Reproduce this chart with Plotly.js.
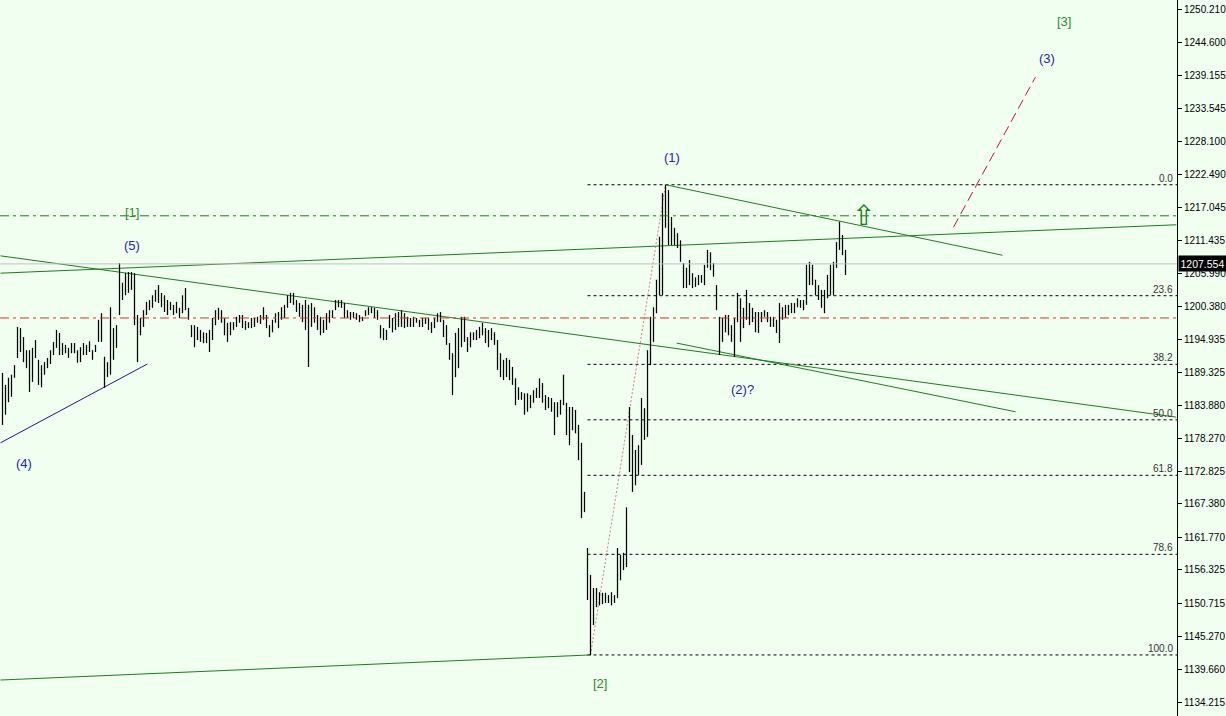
<!DOCTYPE html>
<html>
<head>
<meta charset="utf-8">
<script src="https://cdn.plot.ly/plotly-3.0.1.min.js"></script>
<style>html,body{margin:0;padding:0;background:#f0fff0;}#chart{width:1226px;height:716px;}</style>
</head>
<body>
<div id="chart"></div>
<script>
// ---- bar data (high / low per bar) ----
const barHigh = [
1189.3,1187.3,1188.5,1189.0,1190.6,1197.0,1196.8,1195.3,1193.1,1193.1,
1193.5,1194.8,1191.5,1190.6,1191.1,1191.8,1193.1,1194.5,1196.5,1196.0,
1194.3,1194.0,1193.5,1194.3,1194.3,1193.1,1193.6,1194.3,1194.0,1194.6,
1193.1,1194.0,1198.2,1199.3,1192.0,1191.1,1200.3,1196.8,1197.3,1207.7,
1204.4,1206.0,1206.2,1206.2,1206.0,1199.0,1198.5,1199.8,1201.2,1201.5,
1202.3,1203.2,1204.0,1202.7,1202.3,1201.5,1201.2,1200.7,1201.2,1200.2,
1202.3,1203.5,1200.2,1197.3,1197.3,1197.0,1196.5,1196.1,1196.0,1196.5,
1198.5,1199.8,1200.2,1199.8,1198.5,1197.7,1197.8,1197.8,1198.7,1199.0,
1199.0,1198.0,1197.8,1198.5,1198.5,1198.7,1199.0,1200.3,1199.0,1197.3,
1198.2,1199.3,1199.5,1200.3,1200.7,1202.3,1202.7,1202.7,1201.5,1201.0,
1200.7,1201.5,1200.7,1201.0,1200.3,1199.0,1198.7,1198.2,1199.3,1199.8,
1199.8,1201.5,1201.5,1201.5,1201.0,1199.8,1199.5,1199.5,1199.3,1199.0,
1198.7,1199.8,1200.3,1200.3,1200.2,1199.8,1197.3,1196.8,1196.5,1199.0,
1198.5,1199.3,1199.5,1199.8,1199.3,1198.7,1198.5,1198.7,1198.5,1198.2,
1198.5,1198.5,1198.5,1197.8,1198.5,1199.3,1199.5,1198.2,1197.3,1194.3,
1192.6,1196.0,1196.8,1198.7,1198.7,1195.3,1196.1,1196.1,1196.5,1197.0,
1197.7,1196.8,1196.5,1196.8,1196.1,1194.8,1192.6,1191.5,1191.8,1191.5,
1190.3,1188.4,1186.9,1186.1,1185.9,1185.9,1185.6,1186.4,1186.8,1188.4,
1187.6,1185.6,1185.3,1185.1,1184.4,1184.4,1184.8,1189.0,1184.3,1183.6,
1183.6,1183.1,1180.6,1177.6,1169.4,
1160.0,1155.5,1153.3,1153.3,1152.6,1152.5,1152.5,1152.1,1152.6,1152.1,
1160.0,1158.8,1159.2,1166.8,1183.6,1178.9,1176.4,1177.2,1185.1,1183.4,
1193.1,1198.7,1200.3,1204.9,1212.1,1219.4,1220.8,1219.9,1215.4,1213.6,
1212.7,1211.5,1207.7,1206.9,1208.2,1206.0,1205.3,1205.7,1205.7,1207.4,
1209.9,1209.5,1207.7,1204.0,1198.7,1198.5,1199.0,1199.0,1197.3,1198.5,
1202.7,1201.8,1200.2,1203.2,1201.0,1200.2,1199.5,1199.5,1199.5,1199.8,
1199.5,1198.7,1198.7,1198.2,1201.0,1200.3,1200.7,1200.7,1201.0,1201.0,
1201.8,1201.5,1201.5,1207.4,1207.9,1207.4,1204.9,1204.0,1203.2,1203.2,
1205.7,1207.4,1207.9,1211.2,1214.6,1212.4,1209.9
];
const barLow = [
1180.6,1182.3,1184.4,1185.3,1188.5,1191.8,1192.8,1191.1,1190.1,1186.1,
1187.8,1191.8,1187.3,1186.9,1189.0,1190.1,1190.8,1192.3,1193.5,1192.3,
1192.3,1192.6,1191.8,1192.6,1192.6,1191.0,1191.1,1192.3,1192.3,1192.8,
1191.5,1192.8,1194.5,1194.5,1186.8,1188.6,1189.0,1191.5,1193.5,1199.0,
1201.5,1202.3,1202.7,1203.2,1197.3,1191.1,1195.6,1197.0,1199.0,1199.8,
1200.2,1201.2,1201.0,1200.3,1199.5,1199.0,1199.8,1199.0,1199.3,1198.5,
1199.3,1199.8,1198.2,1195.3,1193.6,1194.8,1194.5,1194.3,1194.3,1192.8,
1194.8,1197.3,1198.2,1197.7,1195.6,1194.5,1195.6,1196.5,1197.0,1197.7,
1196.8,1196.5,1196.8,1196.8,1197.0,1197.7,1197.5,1198.2,1196.8,1195.3,
1196.1,1197.7,1196.8,1198.2,1198.5,1200.2,1201.0,1200.7,1199.5,1198.7,
1197.8,1196.5,1190.3,1197.0,1197.7,1196.5,1195.6,1196.0,1196.5,1197.7,
1198.5,1199.8,1200.3,1200.2,1198.5,1198.5,1198.2,1198.5,1198.2,1197.8,
1198.0,1198.8,1199.0,1199.3,1198.5,1198.2,1195.1,1194.8,1194.8,1196.8,
1196.1,1196.5,1197.0,1197.0,1196.8,1197.0,1197.0,1197.0,1197.7,1197.0,
1197.0,1197.5,1196.5,1196.0,1196.8,1197.8,1197.8,1195.3,1194.0,1191.5,
1185.6,1188.6,1190.1,1193.6,1194.5,1192.8,1193.6,1194.8,1194.8,1195.1,
1195.6,1194.3,1193.6,1194.8,1194.0,1189.8,1188.6,1188.1,1188.6,1188.1,
1187.3,1183.9,1184.8,1184.8,1182.3,1182.8,1183.4,1184.3,1185.1,1185.1,
1184.3,1183.1,1183.4,1182.8,1178.9,1181.9,1182.3,1183.9,1178.9,1177.2,
1179.7,1179.2,1174.7,1165.0,1166.0,
1151.3,1142.1,1147.1,1150.1,1150.4,1150.6,1150.8,1150.8,1150.4,1150.8,
1151.6,1154.6,1156.3,1156.8,1172.7,1169.4,1170.5,1172.2,1173.9,1178.1,
1178.6,1190.6,1194.5,1199.3,1202.3,1202.3,1213.6,1210.7,1210.7,1210.7,
1210.2,1207.9,1203.5,1203.5,1204.0,1203.5,1203.7,1204.0,1204.4,1204.0,
1206.9,1206.5,1205.4,1199.8,1192.3,1194.5,1196.1,1195.6,1194.5,1192.0,
1197.8,1194.5,1196.8,1198.2,1197.3,1197.8,1196.1,1196.0,1197.8,1198.7,
1197.8,1197.0,1197.0,1196.0,1194.3,1198.2,1198.5,1199.0,1199.3,1199.3,
1200.3,1200.2,1199.8,1200.7,1204.0,1204.0,1202.3,1201.5,1200.2,1199.3,
1201.8,1202.3,1202.3,1206.9,1209.9,1209.0,1205.7
];
const lastPrice = 1207.554;

// ---- axis ticks ----
const tickValues = [1250.210,1244.600,1239.155,1233.545,1228.100,1222.490,1217.045,1211.435,1205.990,1200.380,1194.935,1189.325,1183.880,1178.270,1172.825,1167.380,1161.770,1156.325,1150.715,1145.270,1139.660,1134.215];
const tickLabels = tickValues.map(v => v.toFixed(3));

// ---- fibonacci ratios ----
const fibRatios = [0.0, 23.6, 38.2, 50.0, 61.8, 78.6, 100.0];
const fibLabels = ["0.0","23.6","38.2","50.0","61.8","78.6","100.0"];

// ---- horizontal levels ----
const greenLevel = 1215.6;
const redLevel = 1198.5;

// ---- hand-drawn trend lines (bar index, price) ----
const trendDescX = [-0.67, 391.3], trendDescY = [1208.9, 1181.9];
const trendAscX = [-0.67, 391.3], trendAscY = [1206.0, 1214.1];
const trendUpperEndX = 333.3, trendUpperEndY = 1209.0;
const trendLowerX = [224.7, 337.7], trendLowerY = [1194.3, 1182.8];
const trendBottomStartX = -0.67, trendBottomStartY = 1137.9;
const blueLineX = [-0.67, 48.3], blueLineY = [1177.6, 1190.8];
const projX = [317.0, 344.3], projY = [1213.7, 1238.8];

// ---- wave labels ----
const waveText = ["(1)","(5)","(4)","(2)?","(3)"];
const waveX = [223.3, 43.0, 7.0, 246.7, 348.3];
const waveY = [1225.3, 1210.7, 1174.1, 1186.6, 1242.0];
const bigText = ["[1]","[2]","[3]"];
const bigX = [43.0, 199.0, 353.7];
const bigY = [1216.1, 1137.4, 1248.2];
const arrowX = 287.0, arrowY = 1215.6;

// ---- build ----
const n = barHigh.length;
const bx = [], by = [];
for (let i = 0; i < n; i++) { bx.push(i, i, null); by.push(barLow[i], barHigh[i], null); }
let hiIdx = 0, loIdx = 0;
for (let i = 0; i < n; i++) { if (barHigh[i] > barHigh[hiIdx]) hiIdx = i; if (barLow[i] < barLow[loIdx]) loIdx = i; }
const fibHigh = barHigh[hiIdx], fibLow = barLow[loIdx];
const fibLevels = fibRatios.map(r => fibHigh - (fibHigh - fibLow) * r / 100);

const xMin = -2.5/3, xMax = (1177 - 2.5)/3;
const green = '#1e7b1e';
const traces = [];
function line(x, y, color, dash, width) {
  traces.push({type:'scatter', mode:'lines', x:x, y:y, hoverinfo:'skip', showlegend:false,
    line:{color:color, width:width||1, dash:dash||'solid'}});
}
// fib lines
fibLevels.forEach(v => line([loIdx - 1, xMax], [v, v], '#000000', '3px,3px', 1));
// trend lines
line(trendDescX, trendDescY, green);
line(trendAscX, trendAscY, green);
line([hiIdx, trendUpperEndX], [fibHigh, trendUpperEndY], green);
line(trendLowerX, trendLowerY, green);
line([trendBottomStartX, loIdx], [trendBottomStartY, fibLow], green);
line(blueLineX, blueLineY, '#1a1a8c');
line([loIdx, hiIdx], [fibLow, fibHigh], '#d07f86', '2px,2px');
line(projX, projY, '#d0103a', '10px,5px');
// bars
traces.push({type:'scatter', mode:'lines', x:bx, y:by, connectgaps:false, hoverinfo:'skip', showlegend:false,
  line:{color:'#000000', width:1.25}});

const shapes = [
  {type:'line', xref:'paper', x0:0, x1:1, yref:'y', y0:lastPrice, y1:lastPrice, line:{color:'#c0c0c0', width:1}},
  {type:'line', xref:'paper', x0:0, x1:1, yref:'y', y0:greenLevel, y1:greenLevel, line:{color:green, width:1, dash:'9px,4px,3px,4px'}},
  {type:'line', xref:'paper', x0:0, x1:1, yref:'y', y0:redLevel, y1:redLevel, line:{color:'#e0301e', width:1, dash:'9px,4px,3px,4px'}}
];

const annotations = [];
fibLevels.forEach((v, k) => annotations.push({xref:'paper', x:0.998, xanchor:'right', y:v, yanchor:'bottom', yshift:-1,
  text:fibLabels[k], showarrow:false, font:{family:'Liberation Sans, Arial', size:10, color:'#333333'}}));
waveText.forEach((t, k) => annotations.push({x:waveX[k], y:waveY[k], text:t, showarrow:false,
  font:{family:'Liberation Sans, Arial', size:13, color:'#2424b0'}}));
bigText.forEach((t, k) => annotations.push({x:bigX[k], y:bigY[k], text:t, showarrow:false,
  font:{family:'Liberation Sans, Arial', size:13, color:'#2e8b2e'}}));
annotations.push({x:arrowX, y:arrowY, yanchor:'middle', text:'⇧', showarrow:false, font:{family:'DejaVu Sans', size:28, color:'#168016'}});
annotations.push({xref:'paper', x:1, xanchor:'left', xshift:1, y:lastPrice, yanchor:'middle', text:lastPrice.toFixed(3),
  showarrow:false, bgcolor:'#000000', borderpad:1.5, font:{family:'Liberation Sans, Arial', size:10.5, color:'#ffffff'}});

const layout = {
  width:1226, height:716,
  margin:{l:0, r:49, t:0, b:0, pad:0},
  paper_bgcolor:'#f0fff0', plot_bgcolor:'#f0fff0',
  showlegend:false, hovermode:false,
  xaxis:{range:[xMin, xMax], visible:false, fixedrange:true},
  yaxis:{range:[1131.88, 1251.72], side:'right', tickmode:'array', tickvals:tickValues, ticktext:tickLabels,
    ticks:'outside', ticklen:4, tickcolor:'#000000', showline:true, linecolor:'#000000', linewidth:1,
    showgrid:false, zeroline:false, fixedrange:true,
    tickfont:{family:'Liberation Sans, Arial', size:10, color:'#000000'}},
  shapes:shapes, annotations:annotations
};
Plotly.newPlot('chart', traces, layout, {staticPlot:true, displayModeBar:false});
</script>
</body>
</html>
